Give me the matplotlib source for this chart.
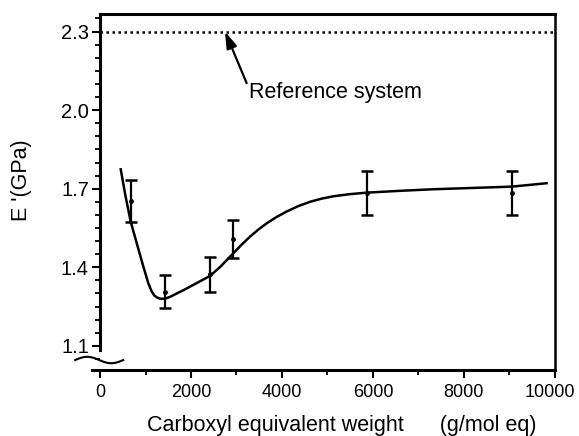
import numpy as np
import matplotlib.pyplot as plt
import matplotlib.transforms as mtransforms
from matplotlib.ticker import MultipleLocator

plt.rcParams['font.family'] = ['Liberation Sans', 'DejaVu Sans']

# measured points (carboxyl equivalent weight, storage modulus)
pts_x = [675, 1436, 2418, 2916, 5861, 9062]
pts_y = [1.654, 1.307, 1.373, 1.507, 1.685, 1.684]
pts_err = [0.080, 0.063, 0.068, 0.072, 0.084, 0.084]

# smooth trend curve
curve_x = [455, 560, 675, 807, 952, 1062, 1130, 1190, 1250, 1320, 1429,
           1550, 1686, 1860, 2051, 2418, 2650, 2894, 3100, 3297, 3480,
           3664, 3880, 4103, 4350, 4615, 4870, 5127, 5480, 5861, 6600, 7326,
           8200, 9055, 9817]
curve_y = [1.774, 1.672, 1.574, 1.492, 1.403, 1.339, 1.310, 1.293, 1.285,
           1.280, 1.280, 1.288, 1.300, 1.315, 1.333, 1.367, 1.403, 1.447,
           1.484, 1.517, 1.544, 1.568, 1.592, 1.613, 1.633, 1.650, 1.662,
           1.671, 1.679, 1.685, 1.692, 1.698, 1.703, 1.708, 1.721]

ref_value = 2.3
x_ticks = [0, 2000, 4000, 6000, 8000, 10000]
y_ticks = [1.1, 1.4, 1.7, 2.0, 2.3]

fig = plt.figure(figsize=(5.79, 4.36), dpi=100)
ax = fig.add_axes([0.1594, 0.1514, 0.799, 0.8165])

ax.plot(curve_x, curve_y, color='black', lw=1.8)
ax.errorbar(pts_x, pts_y, yerr=pts_err, fmt='o', ms=2.5, color='black',
            ecolor='black', elinewidth=1.6, capsize=4, capthick=1.8)
ax.axhline(ref_value, xmin=170 / 10170, xmax=1, color='black', lw=1.8,
           linestyle=(0, (1, 1.4)))

ax.annotate('', xy=(2747, ref_value), xytext=(3224, 2.103),
            arrowprops=dict(arrowstyle='-|>,head_width=0.32,head_length=1.0',
                            color='black', lw=1.6, shrinkA=0, shrinkB=0))
ax.text(3275, 2.066, 'Reference system', fontsize=15.5, va='center',
        ha='left')

ax.set_xlim(-170, 10000)
ax.set_ylim(1.008, 2.367)
ax.set_xticks(x_ticks)
ax.set_yticks(y_ticks)
ax.set_yticklabels([f'{v:.1f}' for v in y_ticks])
ax.xaxis.set_minor_locator(MultipleLocator(1000))
ax.yaxis.set_minor_locator(MultipleLocator(0.05))
ax.tick_params(which='major', direction='out', length=6, width=1.5,
               labelsize=14.5, pad=2)
ax.tick_params(axis='x', which='major', pad=4, labelsize=13)
ax.tick_params(which='minor', direction='out', length=3.5, width=1.3)

# nudge the last x label left so it stays inside the figure
last = ax.get_xticklabels()[-1]
last.set_transform(last.get_transform() +
                   mtransforms.ScaledTranslation(-5 / 100, 0,
                                                 fig.dpi_scale_trans))

for s in ['left', 'bottom', 'top']:
    ax.spines[s].set_linewidth(2.2)
ax.spines['right'].set_linewidth(1.8)
ax.spines['left'].set_position(('data', 0))
ax.spines['left'].set_bounds(1.085, 2.367)
ax.spines['top'].set_bounds(0, 10000)

# axis break mark at the lower left
bx = np.linspace(-0.037, 0.067, 60)
by = 0.028 + 0.009 * np.sin((bx + 0.037) / 0.104 * 2 * np.pi)
ax.plot(bx, by, transform=ax.transAxes, color='black', lw=1.5, clip_on=False)

ax.text(0.54, -0.155, 'Carboxyl equivalent weight      (g/mol eq)',
        transform=ax.transAxes, ha='center', va='center', fontsize=15.5)
ax.text(-0.152, 0.534, "E '(GPa)", transform=ax.transAxes, ha='center',
        va='center', rotation=90, fontsize=15.5)

fig.savefig('out.png', dpi=100)
